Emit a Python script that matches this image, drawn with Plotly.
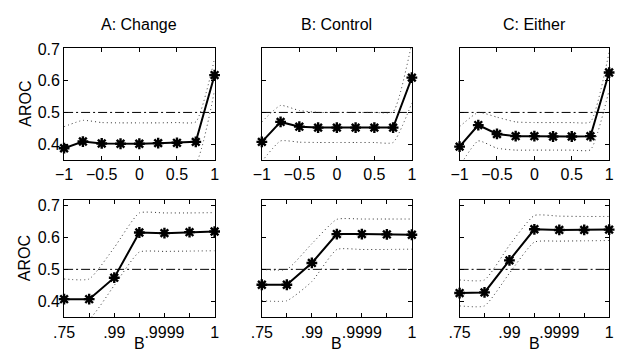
import plotly.graph_objects as go

W, H = 619, 353

# ---- data ----
top_x = [-1, -0.75, -0.5, -0.25, 0, 0.25, 0.5, 0.75, 1]
bot_x = [1, 2, 3, 4, 5, 6, 7]
bot_labels = ['.75', '.9', '.99', '.999', '.9999', '.99999', '1']
bot_ticktext = ['.75', '', '.99', '', '.9999', '', '1']
titles = ['A: Change', 'B: Control', 'C: Either']

topA = [0.387, 0.408, 0.402, 0.401, 0.401, 0.403, 0.404, 0.407, 0.618]
topA_hi = [0.455, 0.475, 0.468, 0.467, 0.467, 0.467, 0.468, 0.470, 0.670]
topA_lo = [0.320, 0.335, 0.333, 0.333, 0.333, 0.333, 0.333, 0.340, 0.570]

topB = [0.407, 0.470, 0.455, 0.452, 0.452, 0.452, 0.452, 0.452, 0.610]
topB_hi = [0.470, 0.522, 0.506, 0.500, 0.500, 0.500, 0.500, 0.502, 0.720]
topB_lo = [0.345, 0.410, 0.406, 0.405, 0.405, 0.405, 0.405, 0.405, 0.530]

topC = [0.392, 0.460, 0.432, 0.425, 0.425, 0.424, 0.424, 0.425, 0.626]
topC_hi = [0.455, 0.500, 0.485, 0.470, 0.468, 0.468, 0.468, 0.470, 0.690]
topC_lo = [0.330, 0.410, 0.387, 0.381, 0.381, 0.381, 0.381, 0.382, 0.570]

botA = [0.407, 0.407, 0.474, 0.615, 0.613, 0.616, 0.618]
botA_hi = [0.470, 0.470, 0.568, 0.676, 0.676, 0.676, 0.677]
botA_lo = [0.335, 0.345, 0.450, 0.554, 0.556, 0.557, 0.558]

botB = [0.452, 0.452, 0.520, 0.610, 0.610, 0.609, 0.608]
botB_hi = [0.500, 0.500, 0.580, 0.656, 0.657, 0.657, 0.657]
botB_lo = [0.402, 0.402, 0.462, 0.562, 0.562, 0.562, 0.563]

botC = [0.426, 0.428, 0.528, 0.625, 0.623, 0.623, 0.624]
botC_hi = [0.467, 0.467, 0.575, 0.668, 0.666, 0.665, 0.665]
botC_lo = [0.386, 0.386, 0.488, 0.585, 0.588, 0.589, 0.590]

chance = 0.5
yticks = [0.4, 0.5, 0.6, 0.7]

top_series = [(topA, topA_hi, topA_lo), (topB, topB_hi, topB_lo), (topC, topC_hi, topC_lo)]
bot_series = [(botA, botA_hi, botA_lo), (botB, botB_hi, botB_lo), (botC, botC_hi, botC_lo)]

# ---- layout geometry (pixels) ----
cols = [(54.5, 209), (257.5, 411.5), (460.5, 614)]
rows = [(42, 156), (196.7, 316.7)]
yranges = [[0.35, 0.703], [0.35, 0.717]]

FONT = 'Liberation Sans, Arial, sans-serif'
FS = 16
fig = go.Figure()

def px_dom_x(a, b):
    return [a / W, b / W]

def px_dom_y(t, b):
    return [1 - b / H, 1 - t / H]

n = 0
for r in range(2):
    for c in range(3):
        n += 1
        xa = 'x' if n == 1 else f'x{n}'
        ya = 'y' if n == 1 else f'y{n}'
        xs = top_x if r == 0 else bot_x
        mid, hi, lo = (top_series if r == 0 else bot_series)[c]
        xr = [-1, 1] if r == 0 else [1, 7]
        # chance line
        fig.add_trace(go.Scatter(x=[xr[0], xr[1]], y=[chance, chance], mode='lines',
                                 line=dict(color='black', width=1, dash='9px,3px,2px,3px'),
                                 xaxis=xa, yaxis=ya, showlegend=False, hoverinfo='skip'))
        for band in (hi, lo):
            fig.add_trace(go.Scatter(x=xs, y=band, mode='lines',
                                     line=dict(color='#333333', width=1, dash='1px,3px',
                                               shape='spline', smoothing=0.5),
                                     xaxis=xa, yaxis=ya, showlegend=False, hoverinfo='skip'))
        fig.add_trace(go.Scatter(x=xs, y=mid, mode='lines+markers',
                                 line=dict(color='black', width=2),
                                 marker=dict(symbol='asterisk-open', size=9, color='black',
                                             line=dict(color='black', width=2.4)),
                                 xaxis=xa, yaxis=ya, showlegend=False, cliponaxis=False))
        xd = px_dom_x(*cols[c])
        yd = px_dom_y(*rows[r])
        xaxis = dict(domain=xd, range=xr, anchor=ya, showgrid=False, zeroline=False,
                     showline=True, linecolor='black', linewidth=1, mirror='allticks',
                     ticks='inside', ticklen=4, tickcolor='black',
                     tickfont=dict(family=FONT, size=FS, color='black'))
        if r == 0:
            xaxis.update(tickvals=[-1, -0.5, 0, 0.5, 1], ticktext=['\u22121', '\u22120.5', '0', '0.5', '1'])
        else:
            xaxis.update(tickvals=bot_x, ticktext=bot_ticktext)
        yaxis = dict(domain=yd, range=yranges[r], anchor=xa, showgrid=False, zeroline=False,
                     showline=True, linecolor='black', linewidth=1, mirror='allticks',
                     ticks='inside', ticklen=4, tickcolor='black', tickvals=yticks,
                     ticktext=['0.4', '0.5', '0.6', '0.7'],
                     showticklabels=(c == 0),
                     tickfont=dict(family=FONT, size=FS, color='black'))
        key = str(n) if n > 1 else ''
        fig.layout['xaxis' + key] = xaxis
        fig.layout['yaxis' + key] = yaxis

annotations = []
for c, t in enumerate(titles):
    cx = (cols[c][0] + cols[c][1]) / 2 / W
    annotations.append(dict(text=t, x=cx, y=1 - 18 / H, xref='paper', yref='paper',
                            showarrow=False, font=dict(family=FONT, size=FS, color='black'),
                            xanchor='center', yanchor='middle'))
    annotations.append(dict(text='B', x=cx, y=0, xref='paper', yref='paper',
                            showarrow=False, font=dict(family=FONT, size=FS, color='black'),
                            xanchor='center', yanchor='bottom', borderpad=0))
for r in range(2):
    cy = 1 - (rows[r][0] + rows[r][1]) / 2 / H
    annotations.append(dict(text='AROC', x=14 / W, y=cy, xref='paper', yref='paper',
                            showarrow=False, textangle=-90,
                            font=dict(family=FONT, size=FS, color='black'),
                            xanchor='center', yanchor='middle'))

fig.update_layout(width=W, height=H, margin=dict(l=0, r=0, t=0, b=0),
                  paper_bgcolor='white', plot_bgcolor='white',
                  annotations=annotations, showlegend=False)

fig.write_html('out.html', config={'displayModeBar': False},
               post_script="document.body.style.margin='0';document.body.style.overflow='hidden';")
